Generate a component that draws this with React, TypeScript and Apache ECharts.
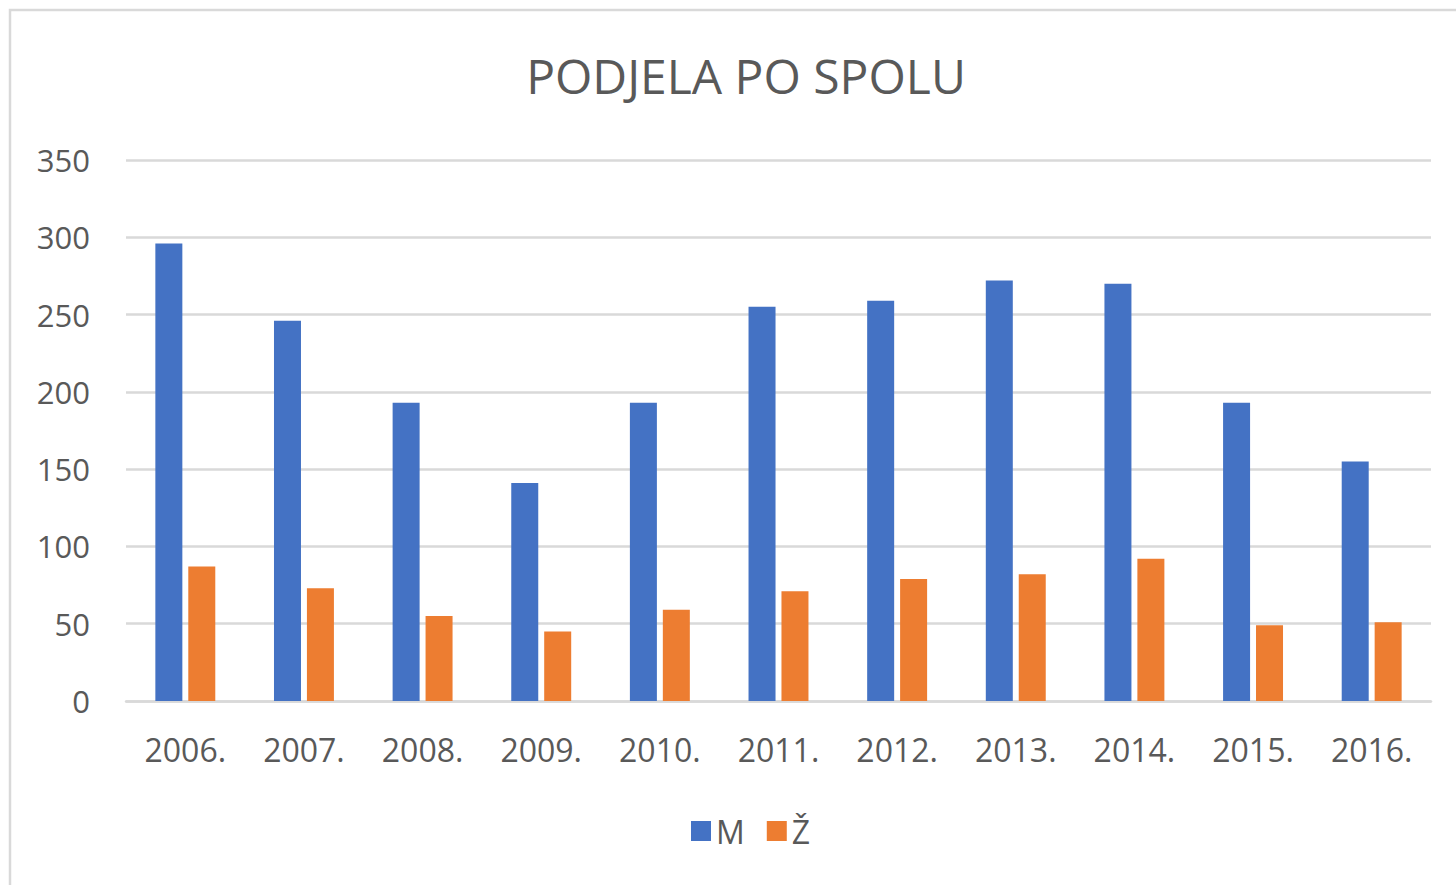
import React, { useEffect, useRef } from "react";
import * as echarts from "echarts";

const categories = ["2006.", "2007.", "2008.", "2009.", "2010.", "2011.", "2012.", "2013.", "2014.", "2015.", "2016."];
const maleValues = [296, 246, 193, 141, 193, 255, 259, 272, 270, 193, 155];
const femaleValues = [87, 73, 55, 45, 59, 71, 79, 82, 92, 49, 51];
const yTicks = { min: 0, max: 350, interval: 50 };

const FONT = "'Open Sans', 'Noto Sans', sans-serif";
const TEXT = "#595959";

export default function App() {
  const ref = useRef<HTMLDivElement>(null);
  useEffect(() => {
    if (!ref.current) return;
    const chart = echarts.init(ref.current, null, { renderer: "svg" });
    chart.setOption({
      animation: false,
      backgroundColor: "#ffffff",
      textStyle: { fontFamily: FONT },
      title: {
        text: "PODJELA PO SPOLU",
        left: 741,
        textAlign: "center",
        top: 46,
        textStyle: { fontFamily: FONT, fontSize: 48, fontWeight: "normal", color: TEXT },
      },
      graphic: [
        {
          type: "rect",
          shape: { x: 10, y: 10, width: 1460, height: 900 },
          style: { fill: "none", stroke: "#d9d9d9", lineWidth: 2.5 },
          silent: true,
        },
      ],
      legend: {
        data: ["M", "Ž"],
        left: 686,
        top: 810,
        itemWidth: 20,
        itemHeight: 20,
        itemGap: 22,
        icon: "rect",
        textStyle: { fontFamily: FONT, fontSize: 32, color: TEXT },
      },
      grid: { left: 126, right: 25, top: 160, bottom: 184, containLabel: false },
      xAxis: {
        type: "category",
        data: categories,
        axisLine: { show: true, lineStyle: { color: "#d9d9d9", width: 2.5 } },
        axisTick: { show: false },
        axisLabel: { fontFamily: FONT, fontSize: 32, color: TEXT, margin: 32 },
      },
      yAxis: {
        type: "value",
        min: yTicks.min,
        max: yTicks.max,
        interval: yTicks.interval,
        axisLine: { show: false },
        axisTick: { show: false },
        splitLine: { lineStyle: { color: "#d9d9d9", width: 2.5 } },
        axisLabel: { fontFamily: FONT, fontSize: 31, color: TEXT, margin: 36 },
      },
      series: [
        {
          name: "M",
          type: "bar",
          data: maleValues,
          barWidth: 27,
          barGap: "22%",
          itemStyle: { color: "#4472C4" },
        },
        {
          name: "Ž",
          type: "bar",
          data: femaleValues,
          barWidth: 27,
          itemStyle: { color: "#ED7D31" },
        },
      ],
    });
    return () => chart.dispose();
  }, []);
  return <div ref={ref} style={{ position: "fixed", left: 0, top: 0, width: 1456, height: 885 }} />;
}
